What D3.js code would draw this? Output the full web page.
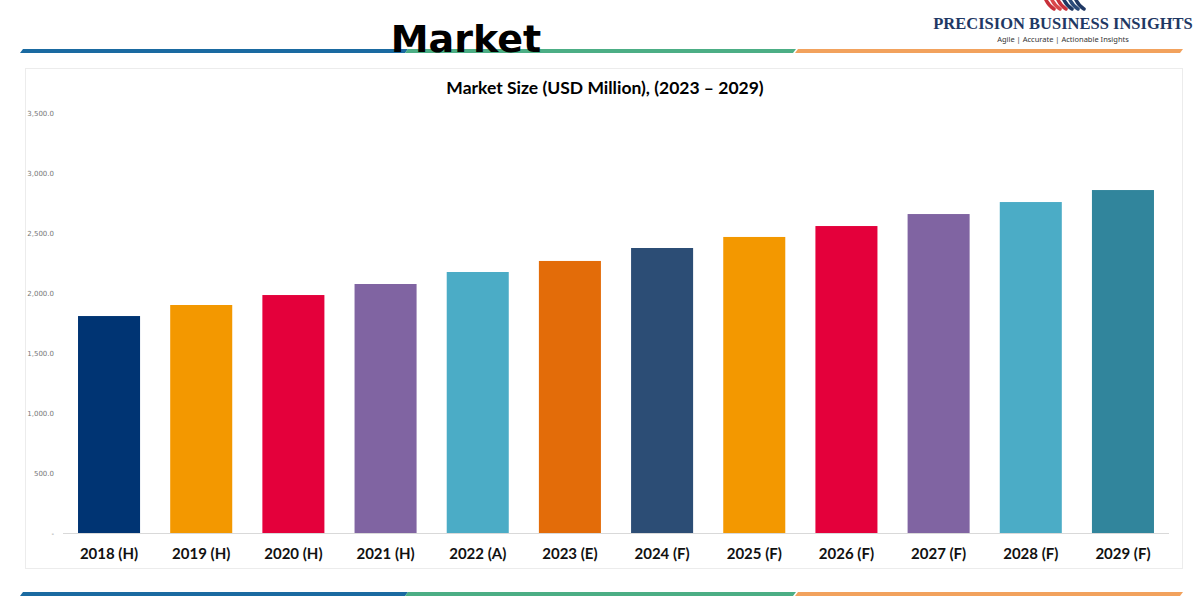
<!DOCTYPE html>
<html><head><meta charset="utf-8">
<script src="https://cdn.jsdelivr.net/npm/d3@7"></script>
<style>html,body{margin:0;padding:0;background:#fff;}svg{display:block;}</style>
</head><body>
<svg id="chart" width="1200" height="600"></svg>
<script>
const categories = ["2018 (H)","2019 (H)","2020 (H)","2021 (H)","2022 (A)","2023 (E)","2024 (F)","2025 (F)","2026 (F)","2027 (F)","2028 (F)","2029 (F)"];
const values = [1808, 1900, 1983, 2075, 2175, 2267, 2375, 2467, 2558, 2658, 2758, 2858];
const barColors = ["#003473","#f39800","#e4003b","#8064a2","#4bacc6","#e36c09","#2c4d75","#f39800","#e4003b","#8064a2","#4bacc6","#31859c"];
const yTicks = [0, 500, 1000, 1500, 2000, 2500, 3000, 3500];
const chartTitle = "Market Size (USD Million), (2023 – 2029)";
const pageTitle = "Market";
const brandName = "PRECISION BUSINESS INSIGHTS";
const brandTag = "Agile | Accurate | Actionable Insights";

const svg = d3.select("#chart");
const font = "Lato,'DejaVu Sans',sans-serif";

// decorative stripes
function stripes(y) {
  const segs = [[20,405,"#1a6aa1"],[405,793,"#4cae85"],[795,1180,"#f2a25d"]];
  segs.forEach(([a,b,c]) => {
    svg.append("path")
      .attr("d", `M${a+3},${y} L${b+3},${y} L${b},${y+4} L${a},${y+4} Z`)
      .attr("fill", c);
  });
}
stripes(49);
stripes(592);

// page title
svg.append("text").attr("x", 466).attr("y", 52).attr("text-anchor","middle")
  .attr("font-family","'DejaVu Sans',sans-serif").attr("font-weight","bold")
  .attr("font-size", 38).attr("fill","#000").text(pageTitle);

// logo
const logo = svg.append("g");
const logoCols = ["#c8303a","#d9474a","#c8303a","#1f3864","#2a4a7a","#1f3864"];
logoCols.forEach((c,i) => {
  logo.append("path").attr("d", `M${1046+i*6},0 q3,6 8,9`)
    .attr("stroke", c).attr("stroke-width", 3.5).attr("fill","none").attr("stroke-linecap","round");
});
svg.append("text").attr("x", 1063).attr("y", 29).attr("text-anchor","middle")
  .attr("font-family","'Liberation Serif',serif").attr("font-weight","bold")
  .attr("font-size", 16.5).attr("fill","#1f3864").text(brandName);
svg.append("text").attr("x", 1063).attr("y", 42).attr("text-anchor","middle")
  .attr("font-family","'Noto Sans',sans-serif")
  .attr("font-size", 7.5).attr("fill","#333").text(brandTag);

// chart frame
svg.append("rect").attr("x", 25.5).attr("y", 68.5).attr("width", 1157).attr("height", 500)
  .attr("fill","#fff").attr("stroke","#ececec").attr("stroke-width",1);

svg.append("text").attr("x", 605).attr("y", 94).attr("text-anchor","middle")
  .attr("font-family", font).attr("font-weight","bold")
  .attr("font-size", 17.5).attr("fill","#000").text(chartTitle);

const x = d3.scaleBand().domain(categories).range([63, 1169]).paddingInner(0.327).paddingOuter(0.163);
const y = d3.scaleLinear().domain([0, 3500]).range([533, 113]);

// y axis labels
const yAxis = d3.axisLeft(y).tickValues(yTicks).tickSize(0)
  .tickFormat(d => d === 0 ? "-" : d3.format(",.1f")(d));
const ya = svg.append("g").attr("transform","translate(57,0)").call(yAxis);
ya.select(".domain").remove();
ya.selectAll("text").attr("font-family","'DejaVu Sans',sans-serif").attr("font-size",7).attr("fill","#777");

// baseline
svg.append("line").attr("x1",63).attr("x2",1169).attr("y1",533.5).attr("y2",533.5)
  .attr("stroke","#d9d9d9").attr("stroke-width",1);

// bars
svg.append("g").selectAll("rect").data(values).join("rect")
  .attr("x", (d,i) => x(categories[i]))
  .attr("width", x.bandwidth())
  .attr("y", d => y(d))
  .attr("height", d => y(0) - y(d))
  .attr("fill", (d,i) => barColors[i]);

// x axis labels
const xAxis = d3.axisBottom(x).tickSize(0).tickPadding(0);
const xa = svg.append("g").attr("transform","translate(0,548)").call(xAxis);
xa.select(".domain").remove();
xa.selectAll("text").attr("font-family", font).attr("font-weight","bold")
  .attr("font-size", 15).attr("fill","#111");
</script>
</body></html>
